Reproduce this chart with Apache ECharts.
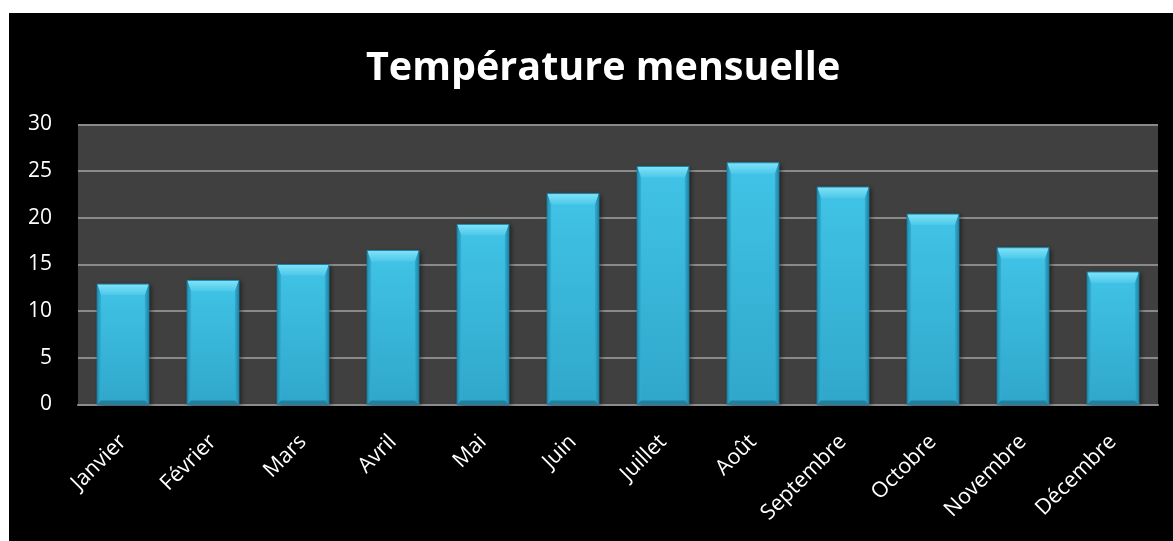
<!DOCTYPE html>
<html><head><meta charset="utf-8">
<script src="https://cdn.jsdelivr.net/npm/echarts@6/dist/echarts.min.js"></script>
<style>
html,body{margin:0;padding:0;background:#fff;}
#c{position:absolute;left:9px;top:13px;width:1164px;height:528px;background:#000;}
</style></head><body>
<div id="c"></div>
<script>
const titleText = "Température mensuelle";
const months = ["Janvier","Février","Mars","Avril","Mai","Juin","Juillet","Août","Septembre","Octobre","Novembre","Décembre"];
const temperatures = [12.9,13.3,15.0,16.5,19.3,22.6,25.5,25.9,23.3,20.4,16.8,14.2];
const yTicks = {min:0,max:30,interval:5};

function renderBevelBar(params, api){
  const i = api.value(0), v = api.value(1);
  const top = api.coord([i, v]);
  const base = api.coord([i, 0]);
  const w = api.size([1, 0])[0] * 0.575;
  const x0 = top[0] - w/2, x1 = top[0] + w/2, y0 = top[1], y1 = base[1];
  const bt = Math.min(11, (y1-y0)/2), bs = 4, bb = 4;
  const G = echarts.graphic;
  return {type:'group', children:[
    {type:'rect', shape:{x:x0,y:y0,width:w,height:y1-y0},
      style:{fill:new G.LinearGradient(0,0,0,1,[{offset:0,color:'#40c4e7'},{offset:1,color:'#30a7ca'}]),
             shadowColor:'rgba(0,0,0,0.55)',shadowBlur:5,shadowOffsetX:2,shadowOffsetY:1}},
    {type:'polygon', shape:{points:[[x0,y0],[x1,y0],[x1-bs,y0+bt],[x0+bs,y0+bt]]},
      style:{fill:new G.LinearGradient(0,0,0,1,[{offset:0,color:'#80e3f8'},{offset:1,color:'#4cc8e9'}])}},
    {type:'polygon', shape:{points:[[x0,y0],[x0+bs,y0+bt],[x0+bs,y1-bb],[x0,y1]]},
      style:{fill:new G.LinearGradient(0,0,1,0,[{offset:0,color:'#1f8db0'},{offset:1,color:'#34b0d5'}])}},
    {type:'polygon', shape:{points:[[x1,y0],[x1-bs,y0+bt],[x1-bs,y1-bb],[x1,y1]]},
      style:{fill:new G.LinearGradient(1,0,0,0,[{offset:0,color:'#1d86a8'},{offset:1,color:'#32acd1'}])}},
    {type:'polygon', shape:{points:[[x0,y1],[x0+bs,y1-bb],[x1-bs,y1-bb],[x1,y1]]},
      style:{fill:'#22809f'}},
    {type:'rect', shape:{x:x0,y:y0,width:w,height:y1-y0},
      style:{fill:'none',stroke:'#1e84a6',lineWidth:1}}
  ]};
}

const chart = echarts.init(document.getElementById('c'), null, {renderer:'canvas'});
chart.setOption({
  backgroundColor:'#000',
  animation:false,
  title:{
    text:titleText, left:352, top:31,
    textStyle:{color:'#fff',fontFamily:'Open Sans',fontWeight:'bold',fontSize:39.5}
  },
  grid:{left:69,right:15,top:111.5,bottom:136.5,show:true,backgroundColor:'#404040',borderWidth:0},
  xAxis:{
    type:'category', data:months,
    axisLine:{show:true,lineStyle:{color:'#8c8c8c',width:2}},
    axisTick:{show:false},
    axisLabel:{color:'#fff',fontFamily:'Open Sans',fontSize:21.5,rotate:45,margin:34,interval:0}
  },
  yAxis:{
    type:'value', min:yTicks.min, max:yTicks.max, interval:yTicks.interval,
    axisLine:{show:false}, axisTick:{show:false},
    axisLabel:{color:'#fff',fontFamily:'Open Sans',fontSize:21,margin:26},
    splitLine:{lineStyle:{color:'#8a8a8a',width:2}}
  },
  series:[{
    type:'custom', renderItem:renderBevelBar,
    encode:{x:0,y:1},
    data:temperatures.map((t,i)=>[i,t])
  }]
});
</script>
</body></html>
